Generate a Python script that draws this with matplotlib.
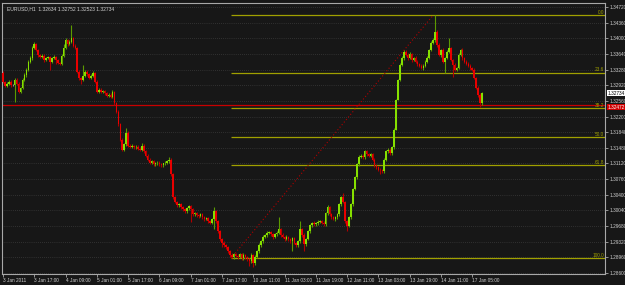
import matplotlib
matplotlib.use('Agg')
import matplotlib.pyplot as plt

# EURUSD H1, 3 Jan - 17 Jan 2011
first_open = 1.3321
close = [
    1.3300, 1.3291, 1.3295, 1.3300, 1.3293, 1.3293, 1.3305, 1.3295, 1.3277, 1.3286,
    1.3305, 1.3316, 1.3328, 1.3346, 1.3355, 1.3378, 1.3387, 1.3373, 1.3362, 1.3357,
    1.3360, 1.3350, 1.3355, 1.3357, 1.3346, 1.3355, 1.3357, 1.3350, 1.3344, 1.3341,
    1.3360, 1.3378, 1.3396, 1.3387, 1.3392, 1.3401, 1.3383, 1.3378, 1.3323, 1.3309,
    1.3305, 1.3314, 1.3323, 1.3318, 1.3309, 1.3314, 1.3321, 1.3300, 1.3277, 1.3282,
    1.3277, 1.3279, 1.3273, 1.3268, 1.3270, 1.3266, 1.3277, 1.3250, 1.3231, 1.3202,
    1.3167, 1.3144, 1.3156, 1.3183, 1.3153, 1.3151, 1.3153, 1.3149, 1.3151, 1.3146,
    1.3144, 1.3153, 1.3140, 1.3130, 1.3121, 1.3114, 1.3117, 1.3110, 1.3112, 1.3114,
    1.3110, 1.3108, 1.3112, 1.3114, 1.3117, 1.3121, 1.3087, 1.3034, 1.3023, 1.3016,
    1.3018, 1.3011, 1.3007, 1.3002, 1.3009, 1.3014, 1.3007, 1.2995, 1.2997, 1.2993,
    1.2991, 1.2995, 1.2988, 1.2984, 1.2986, 1.2979, 1.2975, 1.2984, 1.3002, 1.2979,
    1.2956, 1.2938, 1.2929, 1.2924, 1.2920, 1.2910, 1.2901, 1.2897, 1.2904, 1.2899,
    1.2897, 1.2904, 1.2894, 1.2901, 1.2897, 1.2892, 1.2887, 1.2901, 1.2883, 1.2897,
    1.2910, 1.2924, 1.2933, 1.2943, 1.2947, 1.2952, 1.2954, 1.2949, 1.2943, 1.2949,
    1.2952, 1.2961, 1.2947, 1.2943, 1.2938, 1.2943, 1.2938, 1.2933, 1.2940, 1.2929,
    1.2924, 1.2933, 1.2961, 1.2947, 1.2926, 1.2938, 1.2956, 1.2970, 1.2975, 1.2972,
    1.2975, 1.2977, 1.2979, 1.2975, 1.2972, 1.2997, 1.3011, 1.2995, 1.2988, 1.2984,
    1.2988, 1.2995, 1.3018, 1.3034, 1.3023, 1.2979, 1.2968, 1.2988, 1.3018, 1.3053,
    1.3080, 1.3110, 1.3128, 1.3130, 1.3126, 1.3140, 1.3133, 1.3130, 1.3133, 1.3121,
    1.3108, 1.3103, 1.3098, 1.3096, 1.3094, 1.3121, 1.3140, 1.3144, 1.3135, 1.3149,
    1.3190, 1.3259, 1.3305, 1.3339, 1.3355, 1.3369, 1.3362, 1.3355, 1.3364, 1.3350,
    1.3355, 1.3346, 1.3341, 1.3337, 1.3332, 1.3337, 1.3346, 1.3355, 1.3373, 1.3389,
    1.3396, 1.3415, 1.3385, 1.3362, 1.3373, 1.3346, 1.3355, 1.3369, 1.3378, 1.3350,
    1.3339, 1.3328, 1.3332, 1.3362, 1.3373, 1.3355, 1.3346, 1.3341, 1.3337, 1.3332,
    1.3328, 1.3309, 1.3286, 1.3270, 1.3250, 1.3273,
]
# wick lengths above / below the body, in pips
upper_wick = [
    3, 2, 4, 3, 3, 2, 3, 3, 4, 3,   3, 4, 3, 4, 5, 4, 5, 3, 3, 2,
    4, 3, 3, 3, 2, 3, 4, 2, 3, 2,   3, 8, 4, 3, 4, 30, 3, 3, 2, 3,
    3, 25, 4, 3, 3, 3, 3, 2, 3, 4,  3, 3, 2, 3, 3, 3, 4, 2, 3, 3,
    3, 4, 3, 11, 3, 3, 3, 2, 3, 3,  3, 7, 3, 2, 3, 3, 3, 2, 3, 3,
    3, 3, 2, 3, 4, 7, 3, 3, 4, 3,   3, 4, 3, 3, 4, 3, 3, 3, 4, 3,
    3, 3, 4, 3, 3, 3, 4, 3, 11, 3,  3, 3, 3, 4, 3, 3, 3, 4, 3, 3,
    4, 3, 3, 4, 3, 3, 3, 4, 3, 4,   3, 4, 3, 4, 3, 4, 3, 3, 4, 3,
    4, 27, 3, 4, 3, 4, 3, 3, 4, 3,  3, 4, 18, 3, 4, 3, 4, 3, 3, 4,
    3, 4, 3, 3, 4, 3, 6, 3, 3, 4,   3, 4, 3, 3, 11, 3, 4, 3, 3, 3,
    3, 3, 4, 3, 4, 3, 4, 3, 3, 3,   3, 3, 4, 3, 3, 3, 4, 3, 4, 3,
    3, 2, 2, 3, 4, 3, 4, 3, 4, 3,   3, 4, 3, 3, 4, 3, 3, 4, 3, 5,
    4, 38, 5, 4, 3, 4, 3, 4, 23, 3, 3, 4, 3, 4, 3, 4, 3, 3, 4, 3,
    3, 3, 3, 4, 3, 3,
]
lower_wick = [
    3, 4, 3, 3, 4, 3, 40, 3, 4, 3,  3, 3, 4, 3, 3, 4, 3, 3, 4, 3,
    3, 4, 3, 3, 18, 3, 3, 10, 4, 3, 3, 3, 3, 4, 3, 3, 4, 3, 3, 4,
    11, 3, 3, 4, 3, 3, 3, 4, 3, 3,  4, 3, 3, 4, 3, 3, 3, 3, 4, 3,
    4, 3, 3, 3, 4, 3, 3, 4, 3, 3,   3, 3, 4, 3, 3, 4, 3, 3, 4, 3,
    3, 4, 3, 3, 3, 3, 4, 4, 3, 4,   3, 3, 4, 3, 3, 3, 30, 4, 3, 3,
    4, 3, 3, 4, 3, 4, 3, 3, 23, 4,  3, 4, 10, 3, 4, 3, 4, 3, 4, 3,
    4, 3, 4, 3, 4, 4, 10, 3, 9, 4,  3, 3, 4, 3, 3, 4, 3, 3, 4, 3,
    3, 3, 4, 3, 4, 3, 4, 3, 23, 3,  4, 3, 4, 3, 16, 4, 3, 3, 4, 3,
    3, 4, 3, 3, 4, 3, 3, 4, 3, 3,   4, 3, 3, 4, 3, 4, 11, 3, 3, 3,
    3, 3, 4, 3, 3, 4, 3, 3, 4, 3,   3, 4, 3, 8, 3, 4, 3, 3, 4, 3,
    3, 2, 2, 3, 3, 4, 3, 4, 3, 4,   3, 3, 4, 3, 3, 4, 3, 3, 3, 3,
    3, 4, 4, 3, 4, 3, 25, 3, 3, 3,  27, 3, 4, 3, 3, 4, 3, 3, 3, 4,
    3, 3, 3, 4, 9, 3,
]

title_text = "EURUSD,H1  1.32634 1.32752 1.32523 1.32734"
x_tick_bars = [0, 16, 32, 48, 64, 80, 96, 112, 128, 144, 160, 176, 192, 208, 224, 240]
x_tick_labels = ["3 Jan 2011", "3 Jan 17:00", "4 Jan 09:00", "5 Jan 01:00", "5 Jan 17:00",
                 "6 Jan 09:00", "7 Jan 01:00", "7 Jan 17:00", "10 Jan 11:00", "11 Jan 03:00",
                 "11 Jan 19:00", "12 Jan 11:00", "13 Jan 03:00", "13 Jan 19:00",
                 "14 Jan 11:00", "17 Jan 05:00"]
y_ticks = [1.28600, 1.28960, 1.29320, 1.29680, 1.30040, 1.30400, 1.30760, 1.31120,
           1.31480, 1.31840, 1.32200, 1.32560, 1.32920, 1.33280, 1.33640, 1.34000,
           1.34360, 1.34720]

# fibonacci retracement drawn on the chart
fib_low = 1.2894
fib_high = 1.3453
fib_start_bar = 116.6
fib_end_bar = 220
fib_levels = [0.0, 23.6, 38.2, 50.0, 61.8, 100.0]
red_line = 1.32472
last_price = 1.32734

BG = '#171717'
UP = '#86e000'
DOWN = '#e80000'
UP_WICK = '#5c9a00'
DOWN_WICK = '#b00000'
FIB = '#a0a000'
TXT = '#d0d0d0'
small = ['Liberation Sans', 'DejaVu Sans']
FS = 3.4

opens = [first_open] + close[:-1]
bars = list(range(len(close)))
highs, lows, body_bottom, body_height, body_col, wick_col = [], [], [], [], [], []
for o, c, uw, lw in zip(opens, close, upper_wick, lower_wick):
    highs.append(max(o, c) + uw * 0.0001)
    lows.append(min(o, c) - lw * 0.0001)
    body_bottom.append(min(o, c))
    body_height.append(max(abs(c - o), 0.00006))
    if c > o:
        body_col.append(UP); wick_col.append(UP_WICK)
    elif c < o:
        body_col.append(DOWN); wick_col.append(DOWN_WICK)
    else:
        body_col.append('#c8c8c8'); wick_col.append('#909090')

fig = plt.figure(figsize=(6.25, 2.85), dpi=100, facecolor=BG)
ax = fig.add_axes([2 / 625, 11.5 / 285, 603 / 625, 270.5 / 285])
ax.set_facecolor(BG)

ax.set_xlim(-0.5, 307.9)
ax.set_ylim(1.28590, 1.34811)

# grid
for t in y_ticks:
    ax.axhline(t, color='#4a4a4a', lw=0.5, ls=(0, (1, 2)), zorder=0)

# candles
ax.vlines(bars, lows, highs, colors=wick_col, lw=0.8, zorder=2)
ax.bar(bars, body_height, bottom=body_bottom, width=0.8, color=body_col,
       linewidth=0, zorder=3)

# fibonacci levels
for lvl in fib_levels:
    price = fib_high - lvl / 100 * (fib_high - fib_low)
    ax.hlines(price, fib_start_bar, 307.9, color=FIB, lw=0.9, zorder=1)
    ax.text(307.5, price + 0.00005, f"{lvl:.1f}", color=FIB, fontsize=FS,
            family=small, ha='right', va='bottom', zorder=4)
ax.plot([fib_start_bar, fib_end_bar], [fib_low, fib_high], color='#b00000',
        lw=0.8, ls=(0, (1, 2)), zorder=1)

ax.axhline(red_line, color='#c80000', lw=0.9, zorder=1)

ax.text(2, 1.3468, title_text, color=TXT, fontsize=3.6, family=small,
        ha='left', va='center')

# axes styling
for s in ax.spines.values():
    s.set_color('#a8a8a8')
    s.set_linewidth(0.8)
ax.yaxis.tick_right()
ax.set_yticks(y_ticks)
ax.set_yticklabels([f"{t:.5f}" for t in y_ticks], family=small)
ax.set_xticks(x_tick_bars)
ax.set_xticklabels(x_tick_labels, ha='left', family=small)
ax.tick_params(axis='both', colors='#a8a8a8', labelcolor=TXT, labelsize=FS,
               length=2, width=0.6, pad=1)

# price markers on the scale
trans = ax.get_yaxis_transform()
ax.text(1.004, last_price, f"{last_price:.5f}", transform=trans, fontsize=FS,
        family=small, color='black', ha='left', va='center',
        bbox=dict(boxstyle='square,pad=0.08', fc='white', ec='none'), clip_on=False)
ax.text(1.004, red_line - 0.00003, f"{red_line:.5f}", transform=trans, fontsize=FS,
        family=small, color='white', ha='left', va='top',
        bbox=dict(boxstyle='square,pad=0.08', fc='#d00000', ec='none'), clip_on=False)

fig.savefig('out.png', dpi=100, facecolor=BG)
